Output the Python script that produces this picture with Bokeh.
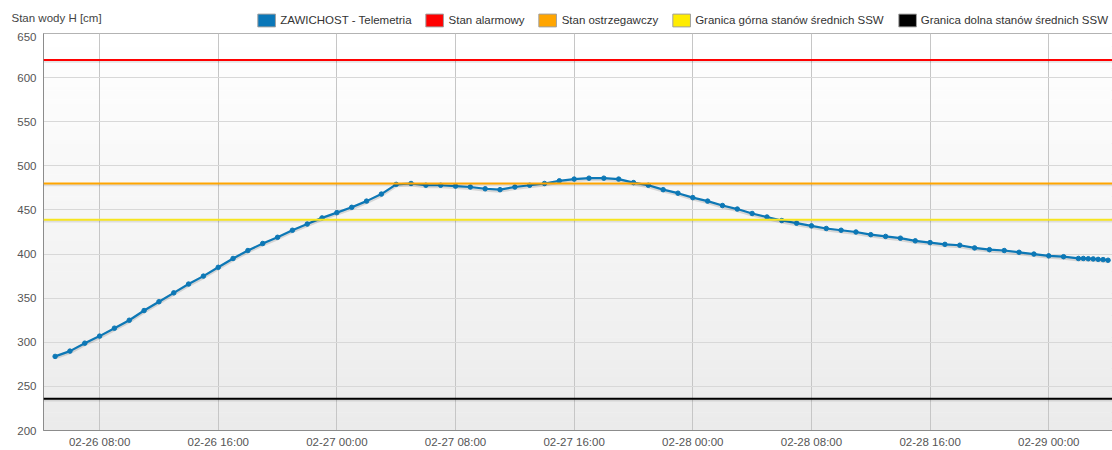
import pandas as pd
from bokeh.plotting import figure
from bokeh.layouts import column
from bokeh.models import (Range1d, FixedTicker, DatetimeTickFormatter, Span, BoxAnnotation,
                          Legend, LegendItem, ColumnDataSource, Label)
from bokeh.transform import dodge
from bokeh.embed import file_html
from bokeh.resources import INLINE

# ---------------- data ----------------
y_label = "Stan wody H [cm]"

hourly_times = pd.date_range("2024-02-26 05:00", "2024-02-29 02:00", freq="h")
tail_times = pd.date_range("2024-02-29 02:20", "2024-02-29 04:00", freq="20min")

hourly_values = [
    284, 290, 299, 307, 316, 325, 336, 346, 356, 366, 375, 385, 395, 404, 412, 419, 427, 434, 441,
    447, 453, 460, 468, 479, 480, 478, 478, 477, 476, 474, 473, 476, 478, 480, 483, 485, 486, 486,
    485, 481, 478, 473, 469, 464, 460, 455, 451, 446, 442, 438, 435, 432, 429, 427, 425, 422, 420,
    418, 415, 413, 411, 410, 407, 405, 404, 402, 400, 398, 397, 395,
]
tail_values = [395, 394.7, 394.5, 394, 393.7, 393]

alarm_level = 620       # Stan alarmowy
warning_level = 480     # Stan ostrzegawczy
ssw_upper = 439         # Granica górna stanów średnich SSW
ssw_lower = 236         # Granica dolna stanów średnich SSW

legend_labels = [
    "ZAWICHOST - Telemetria",
    "Stan alarmowy",
    "Stan ostrzegawczy",
    "Granica górna stanów średnich SSW",
    "Granica dolna stanów średnich SSW",
]

x_tick_times = [
    "2024-02-26 08:00", "2024-02-26 16:00", "2024-02-27 00:00", "2024-02-27 08:00",
    "2024-02-27 16:00", "2024-02-28 00:00", "2024-02-28 08:00", "2024-02-28 16:00",
    "2024-02-29 00:00",
]
y_ticks = [200, 250, 300, 350, 400, 450, 500, 550, 600, 650]

# ---------------- styling ----------------
FONT = "Liberation Sans"
FS = "11.5px"
BLUE = "#0d78b6"
level_colors = ["#ff0000", "#ffa500", "#f7e51e", "#000000"]
legend_colors = ["#0a77b8", "#ff0000", "#ffa500", "#ffec00", "#000000"]

W = 1112
TOP_H = 32
MAIN_H = 418

# ---------------- header strip (caption + legend) ----------------
head = figure(
    title=None, width=W, height=TOP_H,
    x_range=Range1d(0, W), y_range=Range1d(0, TOP_H),
    x_axis_location=None, y_axis_location=None,
    output_backend="svg", toolbar_location=None,
    min_border_left=0, min_border_right=0, min_border_top=0, min_border_bottom=0,
    background_fill_color="#ffffff", border_fill_color="#ffffff", outline_line_color=None,
)
head.frame_align = False
head.grid.visible = False
head.add_layout(Label(x=11, y=TOP_H - 23, text=y_label, text_font=FONT, text_font_size=FS,
                      text_color="#444444", text_baseline="bottom", text_align="left"))

items = []
for lab, col in zip(legend_labels, legend_colors):
    r = head.rect(x=[0], y=[0], width=1, height=1, fill_color=col,
                  line_color="#a0a0a0", line_width=1, visible=False)
    items.append(LegendItem(label=lab, renderers=[r]))
legend = Legend(
    items=items, orientation="horizontal", location="bottom_right",
    glyph_width=22, glyph_height=16, label_standoff=3, spacing=12,
    padding=0, margin=4, border_line_color=None, background_fill_alpha=0,
    label_text_font=FONT, label_text_font_size=FS, label_text_color="#333333",
    label_height=16, click_policy="none",
)
head.add_layout(legend)

# ---------------- main chart ----------------
times = list(hourly_times) + list(tail_times)
values = hourly_values + tail_values
src = ColumnDataSource(dict(t=times, v=values))

p = figure(
    title=None, width=W, height=MAIN_H,
    x_axis_type="datetime",
    x_range=Range1d(pd.Timestamp("2024-02-26 04:13"), pd.Timestamp("2024-02-29 04:18")),
    y_range=Range1d(200, 650),
    output_backend="svg", toolbar_location=None,
    min_border_left=43, min_border_right=0, min_border_top=1, min_border_bottom=0,
    background_fill_color="#ffffff", border_fill_color="#ffffff",
)
p.frame_align = False

# vertical gradient in plot area
n_bands = 90
step = (650 - 200) / n_bands
for i in range(n_bands):
    b = 200 + i * step
    t = min(650, b + step + 0.6)
    frac = i / (n_bands - 1)
    c = int(round(0xeb + (0xff - 0xeb) * frac))
    p.add_layout(BoxAnnotation(bottom=b, top=t, fill_color=f"#{c:02x}{c:02x}{c:02x}",
                               fill_alpha=1, line_color=None, level="image"))

# axes
x_ticks_ms = [pd.Timestamp(s).timestamp() * 1000 for s in x_tick_times]
p.xaxis.ticker = FixedTicker(ticks=x_ticks_ms)
fmt = "%m-%d %H:%M"
p.xaxis.formatter = DatetimeTickFormatter(hours=fmt, hourmin=fmt, days=fmt, months=fmt,
                                          minutes=fmt, minsec=fmt, seconds=fmt)
p.yaxis.ticker = FixedTicker(ticks=y_ticks)

for ax in (p.xaxis[0], p.yaxis[0]):
    ax.major_label_text_font = FONT
    ax.major_label_text_font_size = FS
    ax.major_label_text_color = "#555555"
    ax.major_tick_out = 0
    ax.major_tick_in = 0
    ax.minor_tick_out = 0
    ax.minor_tick_in = 0
    ax.axis_line_color = "#8c8c8c"
    ax.axis_line_width = 1
p.xaxis.major_label_standoff = 5
p.yaxis.major_label_standoff = 7

p.xgrid.grid_line_color = "#c6c6c6"
p.xgrid.grid_line_width = 1
p.ygrid.grid_line_color = "#d8d8d8"
p.ygrid.grid_line_width = 1
p.outline_line_color = "#9a9a9a"
p.outline_line_width = 1

# series shadow + series
p.line(x="t", y=dodge("v", -1.4, range=p.y_range), source=src,
       line_color="black", line_alpha=0.13, line_width=3.5)
p.line(x="t", y="v", source=src, line_color=BLUE, line_width=2.2)
p.scatter(x="t", y="v", source=src, size=4.5, fill_color=BLUE, line_color=BLUE)

# threshold lines
for loc, col in zip([alarm_level, warning_level, ssw_upper, ssw_lower], level_colors):
    p.add_layout(Span(location=loc - 1.5, dimension="width", line_color="black",
                      line_alpha=0.10, line_width=3))
    p.add_layout(Span(location=loc, dimension="width", line_color=col, line_width=2))

layout = column(head, p, spacing=0)
open("out.html", "w").write(file_html(layout, INLINE))
